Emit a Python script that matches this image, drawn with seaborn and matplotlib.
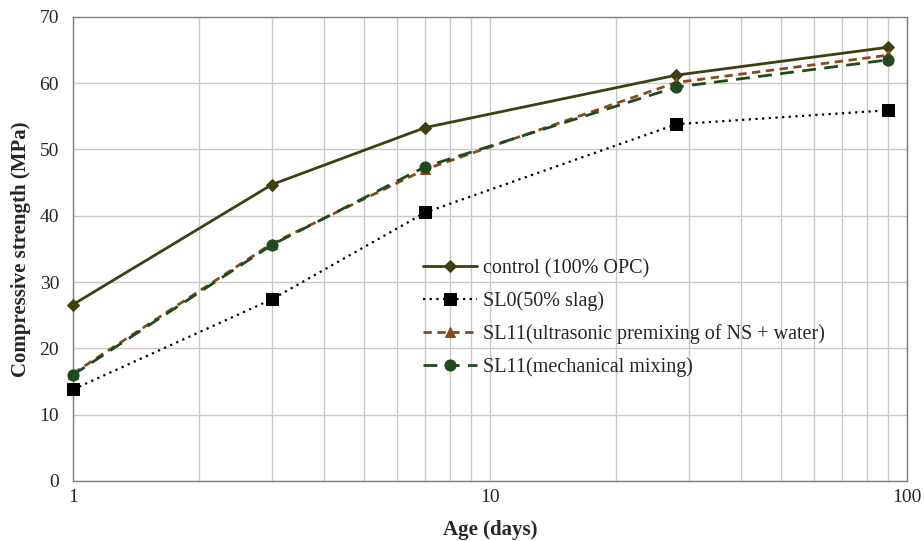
import matplotlib
matplotlib.use("Agg")
import matplotlib.pyplot as plt
import seaborn as sns
import pandas as pd
from matplotlib.ticker import FixedLocator, NullFormatter, LogLocator

sns.set_style("white")
plt.rcParams['font.family'] = ['Liberation Serif', 'DejaVu Serif']

days = [1, 3, 7, 28, 90]
control = [26.6, 44.7, 53.3, 61.2, 65.4]
sl0 = [13.8, 27.4, 40.5, 53.8, 55.9]
sl11_us = [16.2, 35.8, 47.0, 60.1, 64.2]
sl11_mech = [16.0, 35.6, 47.4, 59.4, 63.5]
labels = ["control (100% OPC)", "SL0(50% slag)",
          "SL11(ultrasonic premixing of NS + water)", "SL11(mechanical mixing)"]
y_ticks = [0, 10, 20, 30, 40, 50, 60, 70]

fig = plt.figure(figsize=(9.24, 5.41), dpi=100)
ax = fig.add_axes([0.079, 0.111, 0.9026, 0.858])

styles = [
    dict(color="#3f3f12", linestyle="-", linewidth=2.0, marker="D", markersize=6),
    dict(color="black", linestyle=(0, (1, 2)), linewidth=1.6, marker="s", markersize=8),
    dict(color="#8a4a1c", linestyle=(0, (3, 2)), linewidth=2.0, marker="^", markersize=7),
    dict(color="#1f4a1f", linestyle=(0, (5, 3)), linewidth=2.0, marker="o", markersize=8),
]
series = [control, sl0, sl11_us, sl11_mech]
for vals, lab, st in zip(series, labels, styles):
    df = pd.DataFrame({"day": days, "val": vals})
    sns.lineplot(data=df, x="day", y="val", ax=ax, label=lab,
                 color=st["color"], linestyle=st["linestyle"], linewidth=st["linewidth"],
                 marker=st["marker"], markersize=st["markersize"],
                 markeredgecolor=st["color"], markerfacecolor=st["color"])
for ln in ax.lines:
    ln.set_clip_on(False)
    ln.set_zorder(3)

ax.set_xscale("log")
ax.set_xlim(1, 100)
ax.set_ylim(0, 70)
ax.set_yticks(y_ticks)
ax.xaxis.set_major_locator(FixedLocator([1, 10, 100]))
ax.set_xticklabels(["1", "10", "100"])
ax.xaxis.set_minor_locator(LogLocator(base=10, subs=range(2, 10)))
ax.xaxis.set_minor_formatter(NullFormatter())
ax.grid(True, which="major", color="#c8c8c8", linewidth=1.0)
ax.grid(True, which="minor", axis="x", color="#c8c8c8", linewidth=1.0)
ax.set_axisbelow(True)
for s in ax.spines.values():
    s.set_color("#7f7f7f")
    s.set_linewidth(1.0)
ax.tick_params(axis="both", which="both", length=0, labelsize=14, pad=6)
ax.tick_params(axis="y", pad=10)

ax.set_xlabel("Age (days)", fontsize=15, fontweight="bold", labelpad=10)
ax.set_ylabel("Compressive strength (MPa)", fontsize=15, fontweight="bold", labelpad=6)

leg = ax.legend(loc="upper left", bbox_to_anchor=(0.41, 0.496), frameon=False,
                fontsize=14.5, labelspacing=0.66, handlelength=2.7, handletextpad=0.3,
                borderaxespad=0)

fig.savefig("out.png", dpi=100)
